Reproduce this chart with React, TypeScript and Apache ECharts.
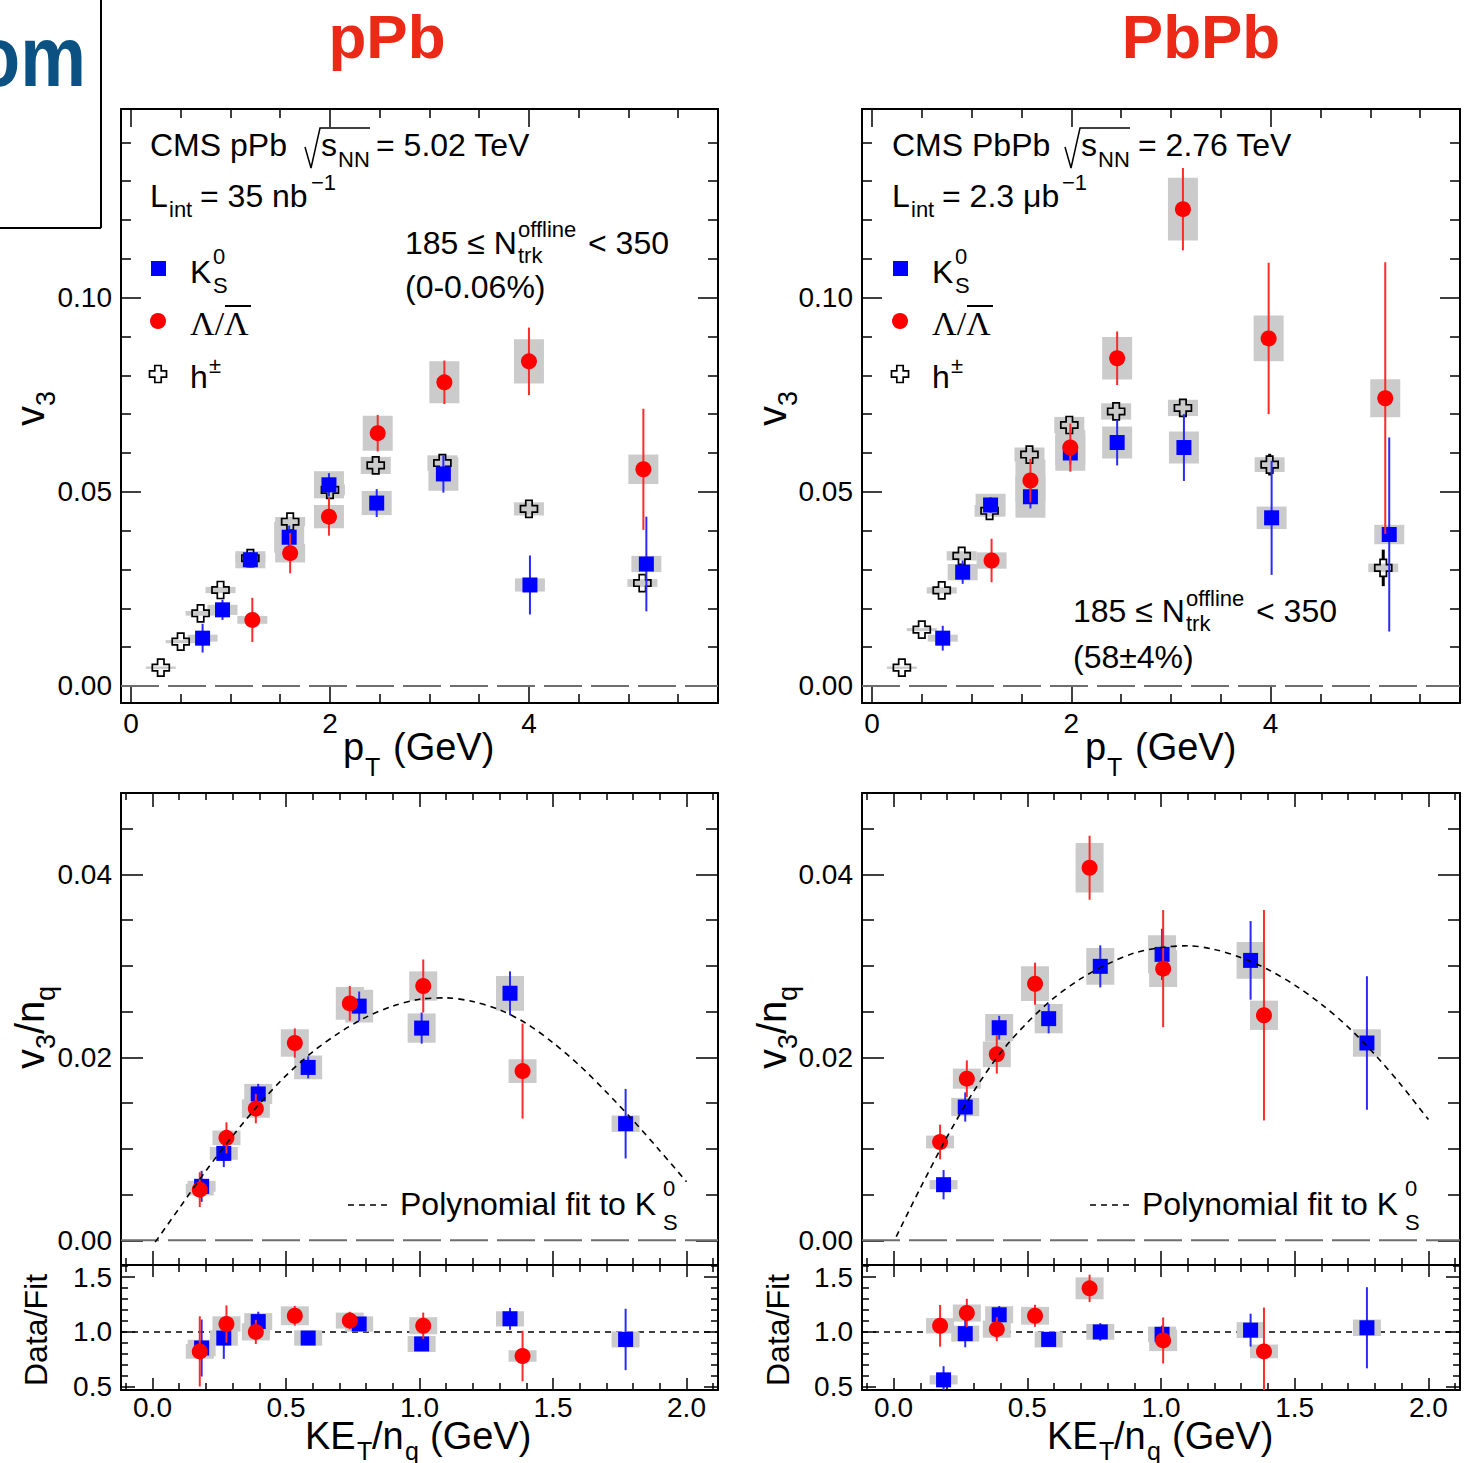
import React, { useEffect, useRef } from "react";
import * as echarts from "echarts";

const FONT = "'Liberation Sans', Arial, Helvetica, sans-serif";
const SERIF = "'Liberation Serif', 'Times New Roman', serif";

// ---------- pPb: v3 vs pT ----------
const pPbHPt = [0.3, 0.5, 0.7, 0.9, 1.2, 1.6, 2.0, 2.46, 3.13, 4.0, 5.14];
const pPbHV3 = [0.0047, 0.0114, 0.0187, 0.0247, 0.0329, 0.0423, 0.0505, 0.0568, 0.0574, 0.0456, 0.0265];
const pPbHStat = [0.0002, 0.0003, 0.0004, 0.0005, 0.0006, 0.0008, 0.0009, 0.001, 0.0012, 0.0016, 0.0022];
const pPbHSyst = [0.0003, 0.0004, 0.0006, 0.0008, 0.001, 0.0012, 0.0014, 0.0022, 0.002, 0.0017, 0.001];

const pPbKPt = [0.72, 0.92, 1.2, 1.59, 1.99, 2.47, 3.14, 4.01, 5.18];
const pPbKV3 = [0.0123, 0.0196, 0.0325, 0.0383, 0.0518, 0.0471, 0.0546, 0.026, 0.0314];
const pPbKStat = [0.0037, 0.0026, 0.002, 0.003, 0.003, 0.0036, 0.0048, 0.0076, 0.0122];
const pPbKSyst = [0.0009, 0.0013, 0.0022, 0.004, 0.0035, 0.0031, 0.0043, 0.0017, 0.0021];

const pPbLPt = [1.22, 1.6, 1.99, 2.48, 3.15, 4.0, 5.15];
const pPbLV3 = [0.017, 0.0342, 0.0436, 0.0651, 0.0782, 0.0836, 0.0558];
const pPbLStat = [0.0057, 0.0052, 0.0049, 0.0047, 0.0056, 0.0087, 0.0156];
const pPbLSyst = [0.001, 0.0024, 0.003, 0.0045, 0.0054, 0.0057, 0.0038];

// ---------- PbPb: v3 vs pT ----------
const PbPbHPt = [0.3, 0.5, 0.7, 0.9, 1.18, 1.58, 1.98, 2.45, 3.12, 3.99, 5.13];
const PbPbHV3 = [0.0047, 0.0145, 0.0246, 0.0335, 0.0451, 0.0596, 0.0672, 0.0707, 0.0716, 0.057, 0.0304];
const PbPbHStat = [0.0002, 0.0003, 0.0004, 0.0005, 0.0006, 0.0008, 0.001, 0.0012, 0.0015, 0.0028, 0.0047];
const PbPbHSyst = [0.0003, 0.0004, 0.0008, 0.0012, 0.0015, 0.0018, 0.0021, 0.0021, 0.0021, 0.0019, 0.0011];

const PbPbKPt = [0.71, 0.91, 1.19, 1.59, 1.99, 2.46, 3.13, 4.01, 5.19];
const PbPbKV3 = [0.0123, 0.0293, 0.0466, 0.0487, 0.06, 0.0627, 0.0614, 0.0433, 0.039];
const PbPbKStat = [0.0032, 0.003, 0.002, 0.003, 0.003, 0.0059, 0.0086, 0.0147, 0.025];
const PbPbKSyst = [0.0009, 0.0021, 0.0029, 0.0054, 0.0046, 0.0041, 0.0041, 0.0029, 0.0025];

const PbPbLPt = [1.2, 1.59, 1.99, 2.46, 3.12, 3.98, 5.15];
const PbPbLV3 = [0.0323, 0.0529, 0.0614, 0.0844, 0.1228, 0.0895, 0.0741];
const PbPbLStat = [0.0056, 0.0056, 0.0062, 0.0069, 0.0106, 0.0195, 0.035];
const PbPbLSyst = [0.0021, 0.0054, 0.0045, 0.0055, 0.0081, 0.0059, 0.0049];

// ---------- pPb: v3/nq vs KET/nq ----------
const pPbKKe = [0.184, 0.267, 0.396, 0.583, 0.774, 1.008, 1.339, 1.772];
const pPbKNq = [0.0059, 0.0095, 0.016, 0.0189, 0.0256, 0.0232, 0.027, 0.01275];
const pPbKNqStat = [0.0017, 0.0015, 0.0011, 0.0012, 0.0016, 0.0017, 0.0024, 0.0038];
const pPbKNqSyst = [0.0006, 0.0007, 0.0011, 0.0013, 0.0018, 0.0016, 0.0019, 0.0009];
const pPbKRatio = [0.853, 0.944, 1.094, 0.944, 1.072, 0.89, 1.119, 0.931];
const pPbKRatioStat = [0.26, 0.19, 0.09, 0.04, 0.05, 0.05, 0.1, 0.28];
const pPbKRatioSyst = [0.075, 0.07, 0.077, 0.07, 0.07, 0.073, 0.07, 0.073];

const pPbLKe = [0.177, 0.277, 0.387, 0.533, 0.739, 1.014, 1.386];
const pPbLNq = [0.00554, 0.0112, 0.0144, 0.02157, 0.0259, 0.0278, 0.0185];
const pPbLNqStat = [0.0019, 0.0017, 0.0016, 0.0016, 0.0019, 0.0029, 0.0052];
const pPbLNqSyst = [0.00064, 0.0008, 0.001, 0.0015, 0.0018, 0.0016, 0.0013];
const pPbLRatio = [0.822, 1.072, 1.0, 1.147, 1.103, 1.056, 0.78];
const pPbLRatioStat = [0.32, 0.17, 0.11, 0.09, 0.08, 0.12, 0.23];
const pPbLRatioSyst = [0.067, 0.07, 0.078, 0.086, 0.073, 0.078, 0.053];

// polynomial fit to K0S, sampled along the drawn curve every 0.1 GeV
const FitKe = [0.01, 0.1, 0.2, 0.3, 0.4, 0.5, 0.6, 0.7, 0.8, 0.9, 1.0, 1.1, 1.2, 1.3, 1.4, 1.5, 1.6, 1.7, 1.8, 1.9, 2.0];
const pPbFitV = [-0.0002, 0.0035, 0.0076, 0.0114, 0.0149, 0.018, 0.0206, 0.0227, 0.0244, 0.0256, 0.02635, 0.0265, 0.0261, 0.0252, 0.0237, 0.0216, 0.0191, 0.0162, 0.0131, 0.0098, 0.0064];

// ---------- PbPb: v3/nq vs KET/nq ----------
const PbPbKKe = [0.187, 0.268, 0.395, 0.58, 0.773, 1.004, 1.335, 1.77];
const PbPbKNq = [0.00608, 0.01457, 0.02324, 0.02423, 0.02995, 0.03126, 0.0306, 0.02157];
const PbPbKNqStat = [0.0016, 0.0016, 0.0013, 0.0016, 0.0023, 0.0028, 0.0043, 0.0073];
const PbPbKNqSyst = [0.0005, 0.001, 0.0015, 0.0016, 0.002, 0.0021, 0.002, 0.0015];
const PbPbKRatio = [0.5625, 0.984, 1.156, 0.931, 1.0, 0.978, 1.016, 1.0375];
const PbPbKRatioStat = [0.125, 0.125, 0.08, 0.04, 0.08, 0.08, 0.15, 0.37];
const PbPbKRatioSyst = [0.042, 0.073, 0.078, 0.073, 0.072, 0.07, 0.073, 0.075];

const PbPbLKe = [0.174, 0.274, 0.386, 0.529, 0.733, 1.008, 1.385];
const PbPbLNq = [0.01075, 0.01767, 0.02033, 0.02805, 0.04073, 0.0297, 0.0246];
const PbPbLNqStat = [0.0019, 0.002, 0.0021, 0.0023, 0.0035, 0.0064, 0.0115];
const PbPbLNqSyst = [0.0007, 0.0011, 0.0014, 0.0019, 0.0027, 0.002, 0.0016];
const PbPbLRatio = [1.056, 1.172, 1.025, 1.147, 1.397, 0.922, 0.822];
const PbPbLRatioStat = [0.19, 0.13, 0.11, 0.1, 0.125, 0.21, 0.4];
const PbPbLRatioSyst = [0.07, 0.078, 0.078, 0.081, 0.1, 0.097, 0.0625];

const PbPbFitV = [0.0004, 0.0057, 0.0113, 0.0163, 0.0205, 0.0238, 0.0265, 0.0286, 0.0302, 0.0314, 0.032, 0.0322, 0.0318, 0.0309, 0.0296, 0.0279, 0.0258, 0.0233, 0.0203, 0.0169, 0.0132];

// ---------- axes ----------
const PT_RANGE = [-0.1, 5.9];
const PT_MAJOR = [0, 2, 4];
const PT_MINOR = [0.5, 1, 1.5, 2.5, 3, 3.5, 4.5, 5, 5.5];
const V3_RANGE = [-0.0044, 0.1486];
const V3_MAJOR = [0, 0.05, 0.1];
const V3_MINOR = [0.01, 0.02, 0.03, 0.04, 0.06, 0.07, 0.08, 0.09, 0.11, 0.12, 0.13, 0.14];
const KE_RANGE = [-0.118, 2.118];
const KE_MAJOR = [0, 0.5, 1, 1.5, 2];
const KE_MINOR = [-0.1, 0.1, 0.2, 0.3, 0.4, 0.6, 0.7, 0.8, 0.9, 1.1, 1.2, 1.3, 1.4, 1.6, 1.7, 1.8, 1.9, 2.1];
const NQ_RANGE = [-0.0027, 0.0489];
const NQ_MAJOR = [0, 0.02, 0.04];
const NQ_MINOR = [0.005, 0.01, 0.015, 0.025, 0.03, 0.035, 0.045];
const RATIO_RANGE = [0.47, 1.61];
const RATIO_MAJOR = [0.5, 1.0, 1.5];
const RATIO_MINOR = [0.6, 0.7, 0.8, 0.9, 1.1, 1.2, 1.3, 1.4, 1.6];

const BLUE = "#0000ff";
const RED = "#ff0000";
const BOX = "#cbcbcb";

type Spec = {
  range: number[];
  major: number[];
  minor: number[];
  fmt: (v: number) => string;
  labels: boolean;
  majLen: number;
  minLen: number;
  margin: number;
};

function crossPts(cx: number, cy: number, a: number, w: number) {
  return [
    [cx - w, cy - a], [cx + w, cy - a], [cx + w, cy - w], [cx + a, cy - w],
    [cx + a, cy + w], [cx + w, cy + w], [cx + w, cy + a], [cx - w, cy + a],
    [cx - w, cy + w], [cx - a, cy + w], [cx - a, cy - w], [cx - w, cy - w],
  ];
}

function buildOption() {
  const xAxes: any[] = [];
  const yAxes: any[] = [];
  const series: any[] = [];

  const grids = [
    { left: 121, top: 109, width: 597, height: 594 },
    { left: 862, top: 109, width: 598, height: 594 },
    { left: 121, top: 793, width: 597, height: 472 },
    { left: 862, top: 793, width: 598, height: 472 },
    { left: 121, top: 1265, width: 597, height: 125 },
    { left: 862, top: 1265, width: 598, height: 125 },
  ];

  const mk = (g: number, s: Spec, pos: string, major: boolean, withLine: boolean, withLabels: boolean) => ({
    type: "value",
    gridIndex: g,
    min: s.range[0],
    max: s.range[1],
    position: pos,
    axisLine: { show: withLine, onZero: false, lineStyle: { color: "#000", width: 2 } },
    axisTick: {
      show: true,
      inside: true,
      length: major ? s.majLen : s.minLen,
      customValues: major ? s.major : s.minor,
      lineStyle: { color: "#000", width: 1.5 },
    },
    axisLabel: withLabels
      ? { show: true, customValues: s.major, formatter: s.fmt, color: "#000", fontSize: 28, fontFamily: FONT, margin: s.margin }
      : { show: false },
    splitLine: { show: false },
  });

  const frame = (g: number, xs: Spec, ys: Spec) => {
    const xi = xAxes.length;
    xAxes.push(mk(g, xs, "bottom", true, true, xs.labels));
    xAxes.push(mk(g, xs, "bottom", false, false, false));
    xAxes.push(mk(g, xs, "top", true, true, false));
    xAxes.push(mk(g, xs, "top", false, false, false));
    const yi = yAxes.length;
    yAxes.push(mk(g, ys, "left", true, true, ys.labels));
    yAxes.push(mk(g, ys, "left", false, false, false));
    yAxes.push(mk(g, ys, "right", true, true, false));
    yAxes.push(mk(g, ys, "right", false, false, false));
    return [xi, yi];
  };

  const boxes = (ax: number[], xs: number[], ys: number[], syst: number[], halfW: number) => ({
    type: "custom",
    xAxisIndex: ax[0],
    yAxisIndex: ax[1],
    z: 2,
    silent: true,
    data: xs.map((x, i) => [x, ys[i], syst[i]]),
    renderItem: (params: any, api: any) => {
      const cs = params.coordSys;
      const x = api.value(0), y = api.value(1), s = api.value(2);
      const t = api.coord([x, y + s]);
      const b = api.coord([x, y - s]);
      const y1 = Math.max(t[1], cs.y);
      const y2 = Math.min(b[1], cs.y + cs.height);
      if (y2 <= y1) return null;
      return { type: "rect", shape: { x: t[0] - halfW, y: y1, width: 2 * halfW, height: y2 - y1 }, style: { fill: BOX } };
    },
  });

  const points = (ax: number[], xs: number[], ys: number[], stat: number[], kind: string) => ({
    type: "custom",
    xAxisIndex: ax[0],
    yAxisIndex: ax[1],
    z: 3,
    silent: true,
    data: xs.map((x, i) => [x, ys[i], stat[i]]),
    renderItem: (params: any, api: any) => {
      const cs = params.coordSys;
      const clampY = (v: number) => Math.min(Math.max(v, cs.y), cs.y + cs.height);
      const x = api.value(0), y = api.value(1), e = api.value(2);
      const c = api.coord([x, y]);
      const hi = api.coord([x, y + e]);
      const lo = api.coord([x, y - e]);
      const kids: any[] = [];
      if (kind === "h") {
        const gap = 8.5;
        if (hi[1] < c[1] - gap)
          kids.push({ type: "line", shape: { x1: c[0], y1: clampY(hi[1]), x2: c[0], y2: c[1] - gap }, style: { stroke: "#000", lineWidth: 3 } });
        if (lo[1] > c[1] + gap)
          kids.push({ type: "line", shape: { x1: c[0], y1: c[1] + gap, x2: c[0], y2: clampY(lo[1]) }, style: { stroke: "#000", lineWidth: 3 } });
        kids.push({ type: "polygon", shape: { points: crossPts(c[0], c[1], 8.5, 3.2) }, style: { fill: "none", stroke: "#000", lineWidth: 1.7 } });
      } else {
        const col = kind === "K" ? "#2a2aff" : "#ff2a2a";
        kids.push({ type: "line", shape: { x1: c[0], y1: clampY(hi[1]), x2: c[0], y2: clampY(lo[1]) }, style: { stroke: col, lineWidth: 2 } });
        if (kind === "K") kids.push({ type: "rect", shape: { x: c[0] - 7.5, y: c[1] - 7.5, width: 15, height: 15 }, style: { fill: BLUE } });
        else kids.push({ type: "circle", shape: { cx: c[0], cy: c[1], r: 8 }, style: { fill: RED } });
      }
      return { type: "group", children: kids };
    },
  });

  const refLine = (ax: number[], xr: number[], yv: number, dash: number[], color: string, width: number) => ({
    type: "line",
    xAxisIndex: ax[0],
    yAxisIndex: ax[1],
    z: 1,
    silent: true,
    showSymbol: false,
    data: [[xr[0], yv], [xr[1], yv]],
    lineStyle: { color, width, type: dash },
  });

  const fitLine = (ax: number[], xs: number[], ys: number[]) => ({
    type: "line",
    xAxisIndex: ax[0],
    yAxisIndex: ax[1],
    z: 4,
    silent: true,
    showSymbol: false,
    smooth: 0.3,
    data: xs.map((x, i) => [x, ys[i]]),
    lineStyle: { color: "#000", width: 1.6, type: [6, 5] },
  });

  const f2 = (v: number) => v.toFixed(2);
  const f1 = (v: number) => v.toFixed(1);
  const f0 = (v: number) => v.toFixed(0);

  const ptSpec: Spec = { range: PT_RANGE, major: PT_MAJOR, minor: PT_MINOR, fmt: f0, labels: true, majLen: 18, minLen: 9, margin: 6 };
  const v3Spec: Spec = { range: V3_RANGE, major: V3_MAJOR, minor: V3_MINOR, fmt: f2, labels: true, majLen: 20, minLen: 10, margin: 9 };
  const keSpecTop: Spec = { range: KE_RANGE, major: KE_MAJOR, minor: KE_MINOR, fmt: f1, labels: false, majLen: 14, minLen: 7, margin: 4 };
  const nqSpec: Spec = { range: NQ_RANGE, major: NQ_MAJOR, minor: NQ_MINOR, fmt: f2, labels: true, majLen: 22, minLen: 12, margin: 9 };
  const keSpecBot: Spec = { range: KE_RANGE, major: KE_MAJOR, minor: KE_MINOR, fmt: f1, labels: true, majLen: 12, minLen: 7, margin: 3 };
  const ratioSpec: Spec = { range: RATIO_RANGE, major: RATIO_MAJOR, minor: RATIO_MINOR, fmt: f1, labels: true, majLen: 14, minLen: 7, margin: 9 };

  // top row: v3 vs pT
  const topSets = [
    { g: 0, h: [pPbHPt, pPbHV3, pPbHStat, pPbHSyst], k: [pPbKPt, pPbKV3, pPbKStat, pPbKSyst], l: [pPbLPt, pPbLV3, pPbLStat, pPbLSyst] },
    { g: 1, h: [PbPbHPt, PbPbHV3, PbPbHStat, PbPbHSyst], k: [PbPbKPt, PbPbKV3, PbPbKStat, PbPbKSyst], l: [PbPbLPt, PbPbLV3, PbPbLStat, PbPbLSyst] },
  ];
  for (const s of topSets) {
    const ax = frame(s.g, ptSpec, v3Spec);
    series.push(refLine(ax, PT_RANGE, 0, [38, 9], "#6e6e6e", 2));
    series.push(boxes(ax, s.h[0], s.h[1], s.h[3], 15));
    series.push(boxes(ax, s.k[0], s.k[1], s.k[3], 15));
    series.push(boxes(ax, s.l[0], s.l[1], s.l[3], 15));
    series.push(points(ax, s.h[0], s.h[1], s.h[2], "h"));
    series.push(points(ax, s.k[0], s.k[1], s.k[2], "K"));
    series.push(points(ax, s.l[0], s.l[1], s.l[2], "L"));
  }

  // middle row: v3/nq vs KET/nq with polynomial fit
  const nqSets = [
    { g: 2, k: [pPbKKe, pPbKNq, pPbKNqStat, pPbKNqSyst], l: [pPbLKe, pPbLNq, pPbLNqStat, pPbLNqSyst], fit: [FitKe, pPbFitV] },
    { g: 3, k: [PbPbKKe, PbPbKNq, PbPbKNqStat, PbPbKNqSyst], l: [PbPbLKe, PbPbLNq, PbPbLNqStat, PbPbLNqSyst], fit: [FitKe, PbPbFitV] },
  ];
  for (const s of nqSets) {
    const ax = frame(s.g, keSpecTop, nqSpec);
    series.push(refLine(ax, KE_RANGE, 0, [38, 9], "#6e6e6e", 2));
    series.push(boxes(ax, s.k[0], s.k[1], s.k[3], 14));
    series.push(boxes(ax, s.l[0], s.l[1], s.l[3], 14));
    series.push(points(ax, s.k[0], s.k[1], s.k[2], "K"));
    series.push(points(ax, s.l[0], s.l[1], s.l[2], "L"));
    series.push(fitLine(ax, s.fit[0], s.fit[1]));
  }

  // bottom row: data / fit
  const ratioSets = [
    { g: 4, k: [pPbKKe, pPbKRatio, pPbKRatioStat, pPbKRatioSyst], l: [pPbLKe, pPbLRatio, pPbLRatioStat, pPbLRatioSyst] },
    { g: 5, k: [PbPbKKe, PbPbKRatio, PbPbKRatioStat, PbPbKRatioSyst], l: [PbPbLKe, PbPbLRatio, PbPbLRatioStat, PbPbLRatioSyst] },
  ];
  for (const s of ratioSets) {
    const ax = frame(s.g, keSpecBot, ratioSpec);
    series.push(refLine(ax, KE_RANGE, 1, [6, 5], "#000", 1.5));
    series.push(boxes(ax, s.k[0], s.k[1], s.k[3], 14));
    series.push(boxes(ax, s.l[0], s.l[1], s.l[3], 14));
    series.push(points(ax, s.k[0], s.k[1], s.k[2], "K"));
    series.push(points(ax, s.l[0], s.l[1], s.l[2], "L"));
  }

  return { grids, xAxes, yAxes, series };
}

// text helper: x, baseline y
function T(x: number, base: number, text: string, size: number, o: any = {}) {
  return {
    type: "text",
    x,
    y: base - 0.3465 * size,
    scaleY: o.scaleY || 1,
    silent: true,
    z: 100,
    style: {
      text,
      fill: o.fill || "#000",
      font: `${o.weight || "normal"} ${size}px ${o.family || FONT}`,
      align: o.align || "left",
      textAlign: o.align || "left",
      verticalAlign: "middle",
      textVerticalAlign: "middle",
    },
  };
}

function L(x1: number, y1: number, x2: number, y2: number, w = 2, dash?: number[]) {
  return { type: "line", silent: true, z: 100, shape: { x1, y1, x2, y2 }, style: { stroke: "#000", lineWidth: w, lineDash: dash } };
}

function topLegend(dx: number) {
  return [
    { type: "rect", silent: true, z: 100, shape: { x: 151 + dx, y: 261, width: 15, height: 15 }, style: { fill: BLUE } },
    T(190 + dx, 283, "K", 32),
    T(213 + dx, 264, "0", 22),
    T(213 + dx, 293, "S", 22),
    { type: "circle", silent: true, z: 100, shape: { cx: 158 + dx, cy: 321, r: 8 }, style: { fill: RED } },
    T(190 + dx, 335, "Λ/Λ", 34, { family: SERIF }),
    L(225 + dx, 306, 251 + dx, 306, 2),
    { type: "polygon", silent: true, z: 100, shape: { points: crossPts(158 + dx, 374, 8.5, 3.2) }, style: { fill: "#fff", stroke: "#000", lineWidth: 1.7 } },
    T(190 + dx, 388, "h", 32),
    T(209 + dx, 373, "±", 22),
  ];
}

function graphics() {
  const g: any[] = [];
  // slide remnants at the top left
  g.push(T(86, 82, "om", 74, { weight: "bold", fill: "#0b5283", align: "right", scaleY: 1.15 }));
  g.push(L(101, 0, 101, 228, 2));
  g.push(L(0, 228, 101, 228, 2));
  g.push(T(387, 58, "pPb", 62, { weight: "bold", fill: "#ec2916", align: "center" }));
  g.push(T(1201, 58, "PbPb", 62, { weight: "bold", fill: "#ec2916", align: "center" }));

  // pPb header
  g.push(T(150, 156, "CMS pPb", 32));
  g.push({ type: "polyline", silent: true, z: 100, shape: { points: [[305, 147], [311, 168], [320, 128], [370, 128]] }, style: { stroke: "#000", lineWidth: 1.5, fill: "none" } });
  g.push(T(321, 156, "s", 32));
  g.push(T(338, 167, "NN", 22));
  g.push(T(376, 156, "= 5.02 TeV", 32));
  g.push(T(150, 207, "L", 32));
  g.push(T(169, 217, "int", 22));
  g.push(T(200, 207, "= 35 nb", 32));
  g.push(T(311, 190, "−1", 22));
  g.push(...topLegend(0));
  g.push(T(405, 254, "185 ≤ N", 32));
  g.push(T(518, 237, "offline", 22));
  g.push(T(518, 263, "trk", 22));
  g.push(T(588, 254, "< 350", 32));
  g.push(T(405, 298, "(0-0.06%)", 32));

  // PbPb header
  g.push(T(892, 156, "CMS PbPb", 32));
  g.push({ type: "polyline", silent: true, z: 100, shape: { points: [[1065, 147], [1071, 168], [1080, 128], [1130, 128]] }, style: { stroke: "#000", lineWidth: 1.5, fill: "none" } });
  g.push(T(1081, 156, "s", 32));
  g.push(T(1098, 167, "NN", 22));
  g.push(T(1138, 156, "= 2.76 TeV", 32));
  g.push(T(892, 207, "L", 32));
  g.push(T(911, 217, "int", 22));
  g.push(T(942, 207, "= 2.3 μb", 32));
  g.push(T(1062, 190, "−1", 22));
  g.push(...topLegend(742));
  g.push(T(1073, 622, "185 ≤ N", 32));
  g.push(T(1186, 606, "offline", 22));
  g.push(T(1186, 631, "trk", 22));
  g.push(T(1256, 622, "< 350", 32));
  g.push(T(1073, 668, "(58±4%)", 32));

  for (const dx of [0, 742]) {
    // pT axis title
    g.push(T(343 + dx, 760, "p", 38));
    g.push(T(365 + dx, 776, "T", 25));
    g.push(T(393 + dx, 760, "(GeV)", 38));
    // KET/nq axis title
    g.push(T(305 + dx, 1449, "KE", 38));
    g.push(T(357 + dx, 1460, "T", 25));
    g.push(T(372 + dx, 1449, "/n", 38));
    g.push(T(405 + dx, 1460, "q", 25));
    g.push(T(430 + dx, 1449, "(GeV)", 38));
    // fit legend
    g.push(L(348 + dx, 1205, 388 + dx, 1205, 1.6, [6, 5]));
    g.push(T(400 + dx, 1215, "Polynomial fit to K", 32));
    g.push(T(663 + dx, 1196, "0", 22));
    g.push(T(663 + dx, 1230, "S", 22));
    // rotated y titles
    g.push({ type: "group", x: 44 + dx, y: 426, rotation: Math.PI / 2, children: [T(0, 0, "v", 40), T(20, 11, "3", 27)] });
    g.push({
      type: "group", x: 44 + dx, y: 1069, rotation: Math.PI / 2,
      children: [T(0, 0, "v", 40), T(20, 11, "3", 27), T(35, 0, "/n", 40), T(68, 11, "q", 27)],
    });
    g.push({ type: "group", x: 47 + dx, y: 1386, rotation: Math.PI / 2, children: [T(0, 0, "Data/Fit", 32)] });
  }
  return g;
}

export default function App() {
  const ref = useRef<HTMLDivElement>(null);
  useEffect(() => {
    if (!ref.current) return;
    const chart = echarts.init(ref.current, undefined, { renderer: "svg" });
    const { grids, xAxes, yAxes, series } = buildOption();
    chart.setOption({
      animation: false,
      backgroundColor: "#fff",
      textStyle: { fontFamily: FONT },
      grid: grids.map((g) => ({ ...g, containLabel: false })),
      xAxis: xAxes,
      yAxis: yAxes,
      series,
      graphic: { elements: graphics() },
    });
    return () => chart.dispose();
  }, []);
  return <div ref={ref} style={{ position: "absolute", left: 0, top: 0, width: 1476, height: 1463, background: "#fff" }} />;
}
